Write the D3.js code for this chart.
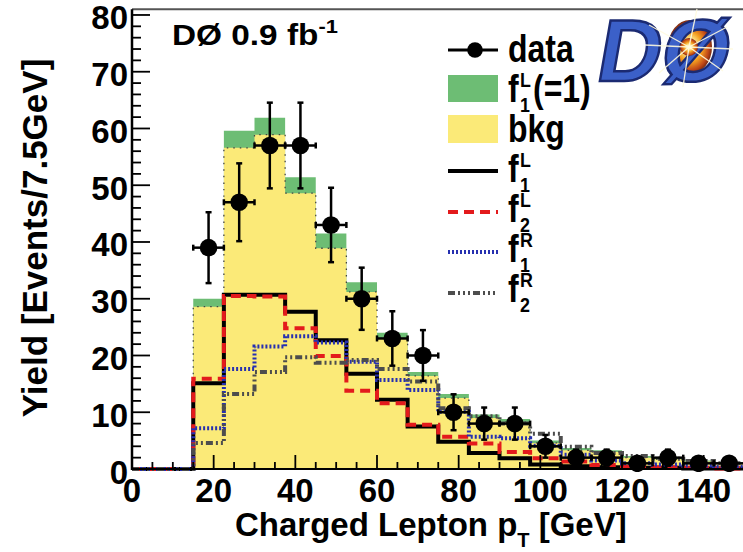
<!DOCTYPE html>
<html>
<head>
<meta charset="utf-8">
<script src="https://cdn.jsdelivr.net/npm/d3@7"></script>
<style>
body { margin: 0; background: #fff; }
svg { display: block; }
text { font-family: "Liberation Sans", Arial, sans-serif; font-weight: bold; fill: #000; }
</style>
</head>
<body>
<script>
// chart size
var W = 743, H = 552;

// lower edges of the 7.5 GeV bins
var binLow = [0, 7.5, 15, 22.5, 30, 37.5, 45, 52.5, 60, 67.5, 75, 82.5, 90, 97.5, 105, 112.5, 120, 127.5, 135, 142.5];
var xMax = 150;

// observed events per bin
var dataCounts = [0, 0, 39, 47, 57, 57, 43, 30, 23, 20, 10, 8, 8, 4, 2, 2, 1, 2, 1, 1];
// stacked: bkg + f1L(=1) signal (green top) and bkg alone (yellow)
var sigPlusBkg = [0, 0, 30.0, 59.6, 61.9, 51.4, 41.5, 32.9, 24.0, 17.1, 13.2, 9.6, 8.8, 5.0, 3.7, 3.3, 2.3, 2.0, 1.5, 1.2];
var bkg        = [0, 0, 28.6, 56.6, 58.9, 48.6, 38.9, 31.2, 23.0, 16.4, 12.5, 9.0, 8.3, 4.6, 3.3, 3.0, 2.0, 1.7, 1.3, 1.0];
// signal shapes
var f1L = [0, 0, 15.1, 30.7, 30.7, 27.7, 22.7, 16.8, 12.2, 7.5, 4.8, 2.8, 1.9, 0.8, 0.5, 0.3, 0.2, 0.2, 0.1, 0.1];
var f2L = [0, 0, 15.9, 30.5, 30.4, 24.8, 19.9, 13.8, 11.6, 7.8, 5.7, 4.5, 3.0, 1.9, 1.3, 0.7, 0.4, 0.3, 0.2, 0.1];
var f1R = [0, 0, 7.2, 17.6, 21.6, 23.4, 22.3, 18.9, 15.7, 13.9, 10.1, 5.7, 5.4, 4.1, 2.5, 1.5, 1.0, 0.8, 0.6, 0.4];
var f2R = [0, 0, 4.6, 13.2, 17.1, 19.7, 18.7, 19.2, 17.6, 15.4, 10.7, 9.3, 8.0, 6.2, 3.9, 2.8, 2.3, 1.8, 1.4, 1.0];

var xTickLabels = [0, 20, 40, 60, 80, 100, 120, 140];
var yTickLabels = [0, 10, 20, 30, 40, 50, 60, 70, 80];

var green = "#6dbd74", yellow = "#fbea78";

var svg = d3.select("body").append("svg")
    .attr("width", W)
    .attr("height", H);

var defs = svg.append("defs");
defs.append("clipPath").attr("id", "plotclip")
    .append("rect").attr("x", 131).attr("y", 9).attr("width", 620).attr("height", 463);

// scales
var x = d3.scaleLinear().domain([0, xMax]).range([132, 744.5]);
var y = d3.scaleLinear().domain([0, 81]).range([469, 9.3]);

function stepPts(vals) {
    var pts = binLow.map(function (b, i) { return [b, vals[i]]; });
    pts.push([xMax, vals[vals.length - 1]]);
    return pts;
}
var line = d3.line().x(function (d) { return x(d[0]); }).y(function (d) { return y(d[1]); }).curve(d3.curveStepAfter);
var area = d3.area().x(function (d) { return x(d[0]); }).y0(y(0)).y1(function (d) { return y(d[1]); }).curve(d3.curveStepAfter);

var plot = svg.append("g").attr("clip-path", "url(#plotclip)");

// stacked fills
plot.append("path").attr("d", area(stepPts(sigPlusBkg))).attr("fill", green);
plot.append("path").attr("d", area(stepPts(bkg))).attr("fill", yellow);
// dotted outline on top of bkg
plot.append("path").attr("d", line(stepPts(bkg))).attr("fill", "none")
    .attr("stroke", "#444").attr("stroke-width", 1.3).attr("stroke-dasharray", "1.5,5");

// axes (ticks drawn over the fills)
var axes = svg.append("g");
axes.append("line").attr("x1", 132).attr("x2", W).attr("y1", 9.3).attr("y2", 9.3)
    .attr("stroke", "#555").attr("stroke-width", 2);

var yMinor = d3.range(0, 81, 2);
axes.selectAll(null).data(yMinor).enter().append("line")
    .attr("x1", 132)
    .attr("x2", function (d) { return d % 10 === 0 ? 150 : 141; })
    .attr("y1", function (d) { return y(d); })
    .attr("y2", function (d) { return y(d); })
    .attr("stroke", "#000").attr("stroke-width", 1.8);

var xMinor = d3.range(0, 151, 5);
axes.selectAll(null).data(xMinor).enter().append("line")
    .attr("x1", function (d) { return x(d); })
    .attr("x2", function (d) { return x(d); })
    .attr("y1", y(0))
    .attr("y2", function (d) { return d % 20 === 0 ? y(0) - 14 : y(0) - 7; })
    .attr("stroke", "#000").attr("stroke-width", 1.8);

// signal shape histograms
var styles = [
    { vals: f1L, color: "#000", dash: null },
    { vals: f2L, color: "#e31a1c", dash: "10,6" },
    { vals: f1R, color: "#2630b0", dash: "2,2" },
    { vals: f2R, color: "#4d4d4d", dash: "7,3,2,3,2,3,2,3" }
];
styles.forEach(function (s) {
    plot.append("path").attr("d", line(stepPts(s.vals))).attr("fill", "none")
        .attr("stroke", s.color).attr("stroke-width", 4)
        .attr("stroke-dasharray", s.dash);
});

axes.append("line").attr("x1", 132).attr("x2", W).attr("y1", y(0)).attr("y2", y(0))
    .attr("stroke", "#000").attr("stroke-width", 2);
axes.append("line").attr("x1", 132).attr("x2", 132).attr("y1", 9.3).attr("y2", y(0) + 1)
    .attr("stroke", "#000").attr("stroke-width", 2.5);

// tick labels
axes.selectAll(null).data(yTickLabels).enter().append("text")
    .attr("x", 128)
    .attr("y", function (d) { return y(d) + 14.5; })
    .attr("text-anchor", "end")
    .attr("font-size", 33)
    .text(function (d) { return d; });
axes.selectAll(null).data(xTickLabels).enter().append("text")
    .attr("x", function (d) { return x(d); })
    .attr("y", 502)
    .attr("text-anchor", "middle")
    .attr("font-size", 33)
    .text(function (d) { return d; });

// axis titles
var xt = svg.append("text").attr("x", 235).attr("y", 536).attr("font-size", 33);
xt.append("tspan").text("Charged Lepton p");
xt.append("tspan").attr("dy", 11).attr("font-size", 20).text("T");
xt.append("tspan").attr("dy", -11).text(" [GeV]");

svg.append("text")
    .attr("transform", "translate(47,238) rotate(-90)")
    .attr("text-anchor", "middle")
    .attr("font-size", 35)
    .text("Yield [Events/7.5GeV]");

// data points with error bars
var pts = binLow.map(function (b, i) { return { lo: b, hi: b + 7.5, c: b + 3.75, n: dataCounts[i] }; })
    .filter(function (d) { return d.n > 0; });
var dg = svg.append("g").attr("clip-path", "url(#plotclip)").attr("stroke", "#000").attr("stroke-width", 2.5);
pts.forEach(function (d) {
    var e = Math.sqrt(d.n);
    dg.append("line").attr("x1", x(d.c)).attr("x2", x(d.c)).attr("y1", y(d.n - e)).attr("y2", y(d.n + e));
    dg.append("line").attr("x1", x(d.c) - 3).attr("x2", x(d.c) + 3).attr("y1", y(d.n - e)).attr("y2", y(d.n - e));
    dg.append("line").attr("x1", x(d.c) - 3).attr("x2", x(d.c) + 3).attr("y1", y(d.n + e)).attr("y2", y(d.n + e));
    dg.append("line").attr("x1", x(d.lo)).attr("x2", x(d.hi)).attr("y1", y(d.n)).attr("y2", y(d.n));
    dg.append("line").attr("x1", x(d.lo)).attr("x2", x(d.lo)).attr("y1", y(d.n) - 3).attr("y2", y(d.n) + 3);
    dg.append("line").attr("x1", x(d.hi)).attr("x2", x(d.hi)).attr("y1", y(d.n) - 3).attr("y2", y(d.n) + 3);
    dg.append("circle").attr("cx", x(d.c)).attr("cy", y(d.n)).attr("r", 8.8).attr("fill", "#000").attr("stroke", "none");
});

// helper for squeezed text
function txt(g, tx, ty, s, size, sx) {
    return g.append("text")
        .attr("transform", "translate(" + tx + "," + ty + ") scale(" + (sx || 1) + ",1)")
        .attr("font-size", size)
        .text(s);
}

// luminosity label
var lum = svg.append("text").attr("transform", "translate(172,45) scale(1.15,1)").attr("font-size", 29);
lum.append("tspan").text("DØ 0.9 fb");
lum.append("tspan").attr("dy", -12).attr("font-size", 19).text("-1");

// legend
var leg = svg.append("g");
var lx0 = 448, lx1 = 498, tx = 508;
leg.append("line").attr("x1", lx0).attr("x2", lx1).attr("y1", 50).attr("y2", 50).attr("stroke", "#000").attr("stroke-width", 3);
leg.append("circle").attr("cx", 475).attr("cy", 50).attr("r", 7.8).attr("fill", "#000");
leg.append("rect").attr("x", lx0).attr("y", 75).attr("width", lx1 - lx0).attr("height", 27).attr("fill", green);
leg.append("rect").attr("x", lx0).attr("y", 115).attr("width", lx1 - lx0).attr("height", 28).attr("fill", yellow);
var legLines = [171, 212, 252, 293];
styles.forEach(function (s, i) {
    leg.append("line").attr("x1", lx0).attr("x2", lx1).attr("y1", legLines[i]).attr("y2", legLines[i])
        .attr("stroke", s.color).attr("stroke-width", 4).attr("stroke-dasharray", s.dash);
});

var fs = 39, sq = 0.82;
txt(leg, tx, 62, "data", fs, sq);
txt(leg, tx, 142, "bkg", fs, sq);
var fLabels = [
    { base: 102, sub: "1", sup: "L", tail: "(=1)" },
    { base: 182, sub: "1", sup: "L", tail: "" },
    { base: 222, sub: "2", sup: "L", tail: "" },
    { base: 262, sub: "1", sup: "R", tail: "" },
    { base: 302, sub: "2", sup: "R", tail: "" }
];
fLabels.forEach(function (f) {
    txt(leg, tx, f.base, "f", fs, sq);
    txt(leg, tx + 12, f.base - 15, f.sup, 21, 0.85);
    txt(leg, tx + 12, f.base + 10, f.sub, 21, 0.85);
    if (f.tail) txt(leg, 533, f.base, f.tail, fs, sq);
});

// experiment logo
var grad = defs.append("radialGradient").attr("id", "burst");
grad.append("stop").attr("offset", "0").attr("stop-color", "#ffffff");
grad.append("stop").attr("offset", "0.25").attr("stop-color", "#fff3a0");
grad.append("stop").attr("offset", "0.55").attr("stop-color", "#f5a020");
grad.append("stop").attr("offset", "0.85").attr("stop-color", "#c04818");
grad.append("stop").attr("offset", "1").attr("stop-color", "#7a2a10");
var logo = svg.append("g");
logo.append("ellipse").attr("cx", 690).attr("cy", 47).attr("rx", 22).attr("ry", 27).attr("fill", "url(#burst)");
logo.append("text")
    .attr("transform", "translate(594,81) skewX(-10)")
    .attr("font-size", 88)
    .style("fill", "#3b60c8")
    .attr("stroke", "#1b2a72").attr("stroke-width", 2.5)
    .text("DØ");
logo.append("circle").attr("cx", 689).attr("cy", 47).attr("r", 9).attr("fill", "url(#burst)");
[[-40, -22], [38, -20], [-30, 26], [34, 24], [8, -38], [-6, 40], [44, 2], [-44, -2]].forEach(function (r) {
    logo.append("line").attr("x1", 689).attr("y1", 47).attr("x2", 689 + r[0]).attr("y2", 47 + r[1])
        .attr("stroke", "#fffbe0").attr("stroke-width", 1.3).attr("opacity", 0.9);
});
</script>
</body>
</html>
